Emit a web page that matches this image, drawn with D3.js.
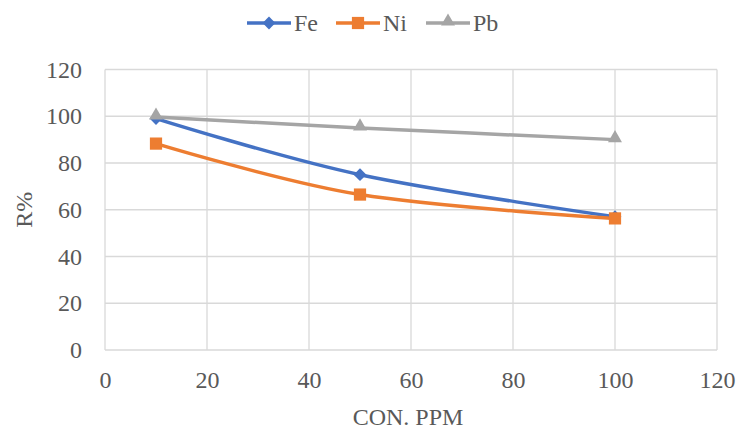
<!DOCTYPE html>
<html lang="en">
  <head>
    <meta charset="utf-8" />
    <title>R% vs CON. PPM</title>
    <style>
      body { margin: 0; background: #fff; }
    </style>
  </head>
  <body>
    <svg id="chart"></svg>
    <script src="https://d3js.org/d3.v7.min.js"></script>
    <script>
        var width = 739;
        var height = 430;
        var font = "'Liberation Serif', 'Times New Roman', serif";
        var textColor = "#595959";

        // data
        var conc = [10, 50, 100];
        var fe = [99, 75, 57];
        var ni = [88.3, 66.5, 56.3];
        var pb = [99.7, 95, 90];
        var xTicks = [0, 20, 40, 60, 80, 100, 120];
        var yTicks = [0, 20, 40, 60, 80, 100, 120];

        var series = [
            {name: "Fe", values: fe, color: "#4472C4", symbol: d3.symbolDiamond2, size: 105, dy: 0},
            {name: "Ni", values: ni, color: "#ED7D31", symbol: d3.symbolSquare2, size: 190, dy: 0},
            {name: "Pb", values: pb, color: "#A5A5A5", symbol: d3.symbolTriangle2, size: 140, dy: -1.5}
        ];

        var margin = {left: 105, right: 22, top: 69.5, bottom: 80};

        var x = d3.scaleLinear().domain([0, 120]).range([margin.left, width - margin.right]);
        var y = d3.scaleLinear().domain([0, 120]).range([height - margin.bottom, margin.top]);

        var svg = d3.select("#chart")
            .attr("width", width)
            .attr("height", height);

        // gridlines
        var grid = svg.append("g").attr("class", "grid");
        grid.selectAll(".hgrid")
            .data(yTicks)
            .enter()
            .append("line")
            .attr("x1", x(0))
            .attr("x2", x(120))
            .attr("y1", function(d) { return y(d); })
            .attr("y2", function(d) { return y(d); })
            .attr("stroke", "#d9d9d9")
            .attr("stroke-width", 1.3);
        grid.selectAll(".vgrid")
            .data(xTicks)
            .enter()
            .append("line")
            .attr("y1", y(0))
            .attr("y2", y(120))
            .attr("x1", function(d) { return x(d); })
            .attr("x2", function(d) { return x(d); })
            .attr("stroke", "#d9d9d9")
            .attr("stroke-width", 1.3);

        // axes (labels only, Excel style)
        var xAxis = svg.append("g")
            .attr("transform", "translate(0," + y(0) + ")")
            .call(d3.axisBottom(x).tickValues(xTicks).tickSize(0).tickPadding(21));
        var yAxis = svg.append("g")
            .attr("transform", "translate(" + x(0) + ",0)")
            .call(d3.axisLeft(y).tickValues(yTicks).tickSize(0).tickPadding(23));
        [xAxis, yAxis].forEach(function(a) {
            a.attr("font-family", null).attr("font-size", null);
            a.select(".domain").remove();
            a.selectAll("text")
                .style("font-family", font)
                .style("font-size", "24px")
                .style("fill", textColor);
        });

        // axis titles
        svg.append("text")
            .attr("x", (x(0) + x(120)) / 2 - 3)
            .attr("y", 425)
            .attr("text-anchor", "middle")
            .style("font-family", font)
            .style("font-size", "24px")
            .style("fill", textColor)
            .text("CON. PPM");
        svg.append("text")
            .attr("transform", "translate(32," + (y(0) + y(120)) / 2 + ") rotate(-90)")
            .attr("text-anchor", "middle")
            .style("font-family", font)
            .style("font-size", "24px")
            .style("fill", textColor)
            .text("R%");

        // lines, smoothed like Excel
        var line = d3.line()
            .x(function(d, i) { return x(conc[i]); })
            .y(function(d) { return y(d); })
            .curve(d3.curveCardinal.tension(0));

        var plot = svg.append("g");
        series.forEach(function(s) {
            plot.append("path")
                .attr("d", line(s.values))
                .attr("fill", "none")
                .attr("stroke", s.color)
                .attr("stroke-width", 3.5)
                .attr("stroke-linecap", "round");
        });
        series.forEach(function(s) {
            plot.selectAll(null)
                .data(s.values)
                .enter()
                .append("path")
                .attr("d", d3.symbol().type(s.symbol).size(s.size))
                .attr("transform", function(d, i) {
                    return "translate(" + x(conc[i]) + "," + (y(d) + s.dy) + ")";
                })
                .attr("fill", s.color);
        });

        // legend
        var legendX = [247, 336, 426];
        var legend = svg.append("g");
        series.forEach(function(s, i) {
            var g = legend.append("g").attr("transform", "translate(" + legendX[i] + ",23)");
            g.append("line")
                .attr("x1", 0).attr("x2", 44)
                .attr("stroke", s.color)
                .attr("stroke-width", 3.5);
            g.append("path")
                .attr("d", d3.symbol().type(s.symbol).size(s.size))
                .attr("transform", "translate(22," + s.dy + ")")
                .attr("fill", s.color);
            g.append("text")
                .attr("x", 47)
                .attr("y", 8)
                .style("font-family", font)
                .style("font-size", "24px")
                .style("fill", textColor)
                .text(s.name);
        });
    </script>
  </body>
</html>
